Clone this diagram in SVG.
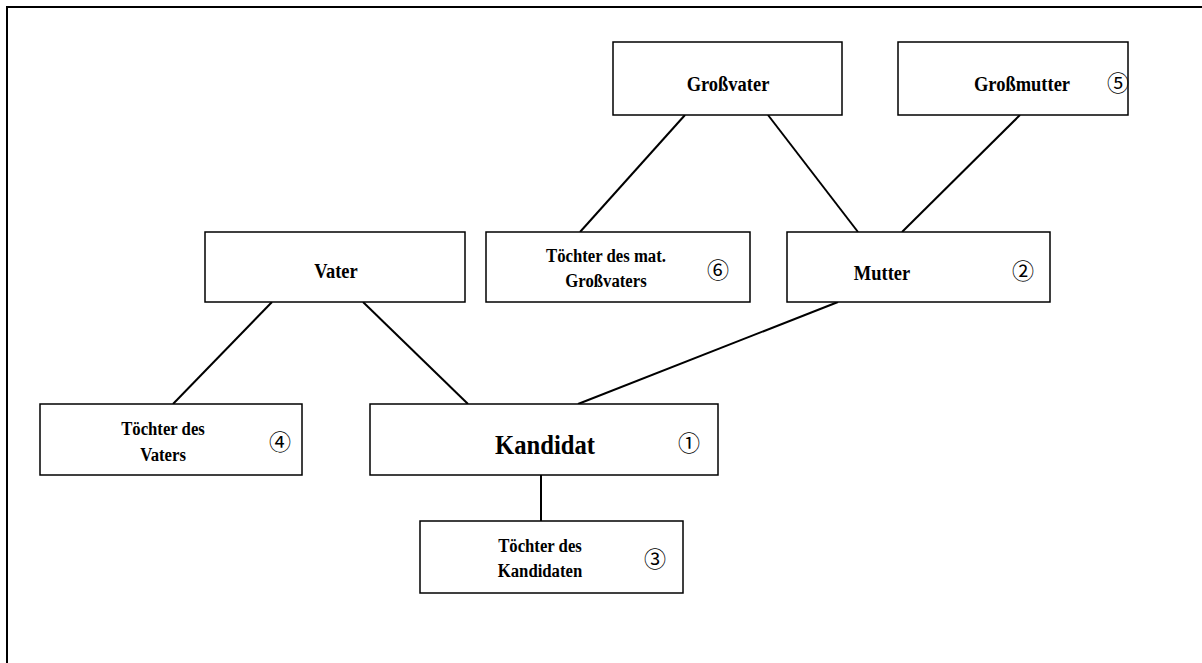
<svg xmlns="http://www.w3.org/2000/svg" width="1202" height="663" viewBox="0 0 1202 663">
<style>
.box{fill:#fff;stroke:#000;stroke-width:1.5}
.t{font-family:"Liberation Serif","Times New Roman",serif;font-weight:bold;font-size:21px;text-anchor:middle;fill:#000}
.s{font-size:19px}
.k{font-size:28px}
.n{font-family:"Noto Sans CJK JP","DejaVu Sans",sans-serif;font-weight:normal;font-size:22px;text-anchor:middle;fill:#000}
.c line{stroke:#000;stroke-width:2}
</style>
<rect x="0" y="0" width="1202" height="663" fill="#fff"/>
<rect x="7" y="7" width="1220" height="690" fill="none" stroke="#000" stroke-width="2"/>
<g class="c" id="connectors">
<line x1="685" y1="115" x2="580" y2="232"/>
<line x1="768" y1="115" x2="858" y2="232"/>
<line x1="1020" y1="115" x2="902" y2="232"/>
<line x1="272" y1="302" x2="173" y2="404"/>
<line x1="363" y1="302" x2="468" y2="404"/>
<line x1="838" y1="302" x2="578" y2="404"/>
<line x1="541" y1="475" x2="541" y2="521"/>
</g>
<g id="grossvater"><rect class="box" x="613" y="42" width="229" height="73"/><text class="t" transform="translate(728,91) scale(0.88,1)">Großvater</text></g>
<g id="grossmutter"><rect class="box" x="898" y="42" width="230" height="73"/><text class="t" transform="translate(1022,91) scale(0.88,1)">Großmutter</text><text class="n" x="1118" y="91">⑤</text></g>
<g id="vater"><rect class="box" x="205" y="232" width="260" height="70"/><text class="t" transform="translate(336,278) scale(0.88,1)">Vater</text></g>
<g id="toechter-mat"><rect class="box" x="486" y="232" width="264" height="70"/><text class="t s" transform="translate(606,262) scale(0.88,1)">Töchter des mat.</text><text class="t s" transform="translate(606,287) scale(0.88,1)">Großvaters</text><text class="n" x="718" y="278">⑥</text></g>
<g id="mutter"><rect class="box" x="787" y="232" width="263" height="70"/><text class="t" transform="translate(882,280) scale(0.88,1)">Mutter</text><text class="n" x="1023" y="279">②</text></g>
<g id="toechter-vater"><rect class="box" x="40" y="404" width="262" height="71"/><text class="t s" transform="translate(163,435) scale(0.88,1)">Töchter des</text><text class="t s" transform="translate(163,461) scale(0.88,1)">Vaters</text><text class="n" x="280" y="450">④</text></g>
<g id="kandidat"><rect class="box" x="370" y="404" width="348" height="71"/><text class="t k" transform="translate(545,454) scale(0.88,1)">Kandidat</text><text class="n" x="689" y="451">①</text></g>
<g id="toechter-kandidat"><rect class="box" x="420" y="521" width="263" height="72"/><text class="t s" transform="translate(540,552) scale(0.88,1)">Töchter des</text><text class="t s" transform="translate(540,577) scale(0.88,1)">Kandidaten</text><text class="n" x="655" y="567">③</text></g>
</svg>
